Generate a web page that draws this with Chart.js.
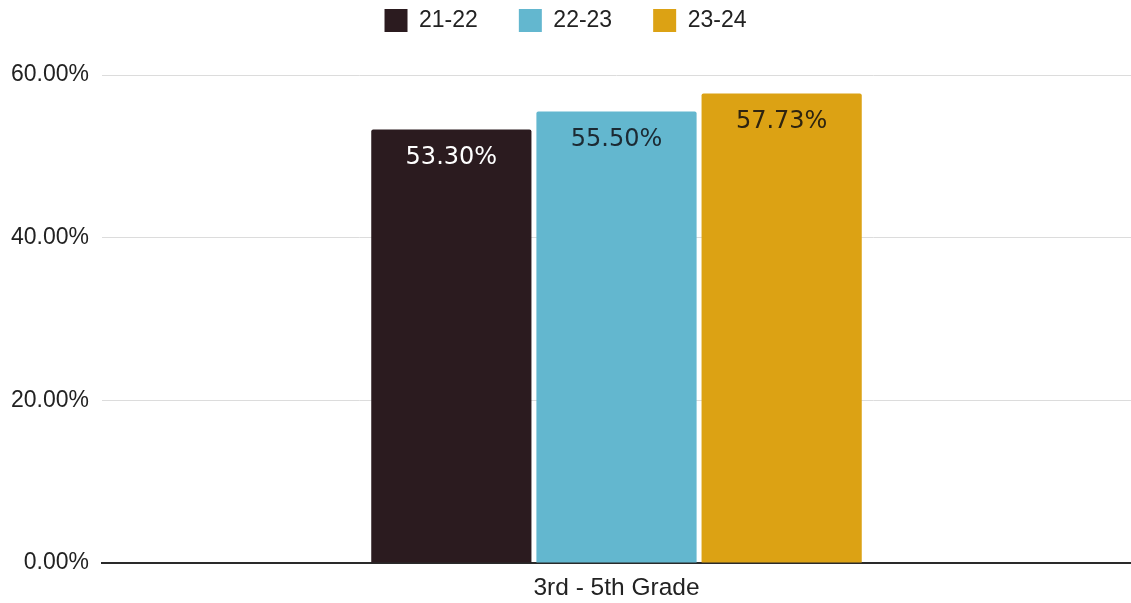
<!DOCTYPE html>
<html>
<head>
<meta charset="utf-8">
<script src="https://cdn.jsdelivr.net/npm/chart.js@4"></script>
<style>
html,body{margin:0;padding:0;background:#fff;}
#wrap{width:1131px;height:603px;position:relative;}
</style>
</head>
<body>
<div id="wrap"><canvas id="c"></canvas></div>
<script>
const categories = ["3rd - 5th Grade"];
const seriesNames = ["21-22", "22-23", "23-24"];
const values2122 = [53.30];
const values2223 = [55.50];
const values2324 = [57.73];
const yTicks = [0, 20, 40, 60];

const colors = ["#2b1b1f", "#63b7cf", "#dca214"];
const labelColors = ["#ffffff", "#1c2a33", "#2e2410"];

const LEG_PAD = 41;
const TOP_SHIFT = LEG_PAD - 9;

const labelPlugin = {
  id: 'barLabels',
  afterDatasetsDraw(chart) {
    const ctx = chart.ctx;
    ctx.save();
    ctx.font = '24px "DejaVu Sans"';
    ctx.textAlign = 'center';
    ctx.textBaseline = 'middle';
    chart.data.datasets.forEach((ds, i) => {
      const meta = chart.getDatasetMeta(i);
      meta.data.forEach((bar, j) => {
        ctx.fillStyle = labelColors[i];
        ctx.fillText(ds.data[j].toFixed(2) + '%', bar.x, bar.y + 28);
      });
    });
    ctx.restore();
  }
};

const legendHeightPlugin = {
  id: 'legendHeight',
  beforeUpdate(chart) {
    const lg = chart.legend;
    if (lg && !lg._patched) {
      const orig = lg.fit;
      lg.fit = function () {
        orig.call(this);
        this.height = 75 + TOP_SHIFT;
      };
      lg._patched = true;
    }
  }
};

new Chart(document.getElementById('c'), {
  type: 'bar',
  data: {
    labels: categories,
    datasets: [
      { label: seriesNames[0], data: values2122, backgroundColor: colors[0] },
      { label: seriesNames[1], data: values2223, backgroundColor: colors[1] },
      { label: seriesNames[2], data: values2324, backgroundColor: colors[2] }
    ]
  },
  options: {
    responsive: true,
    maintainAspectRatio: false,
    animation: false,
    layout: { padding: { left: 0, right: 0, top: -TOP_SHIFT, bottom: 0 } },
    datasets: {
      bar: { categoryPercentage: 0.4815, barPercentage: 0.97, borderRadius: 2, borderSkipped: 'bottom' }
    },
    plugins: {
      legend: {
        position: 'top',
        labels: {
          font: { family: '"Liberation Sans", Arial', size: 23 },
          color: '#222',
          boxWidth: 23,
          boxHeight: 23,
          padding: LEG_PAD
        }
      },
      tooltip: { enabled: false }
    },
    scales: {
      x: {
        afterFit(axis) { axis.height = 40; },
        grid: { display: false, drawTicks: false },
        border: { display: true, color: '#2a2a2a', width: 2 },
        ticks: { font: { family: '"Liberation Sans", Arial', size: 24.5 }, color: '#222', padding: 11 }
      },
      y: {
        min: 0,
        max: 60,
        afterBuildTicks(axis) { axis.ticks = yTicks.map(v => ({ value: v })); },
        afterFit(axis) { axis.width = 102; },
        grid: { color: (c) => c.tick && c.tick.value === 0 ? 'rgba(0,0,0,0)' : '#dcdcdc', lineWidth: 1, drawTicks: false },
        border: { display: false },
        ticks: {
          font: { family: '"Liberation Sans", Arial', size: 23 },
          color: '#222',
          padding: 13,
          callback: (v) => Number(v).toFixed(2) + '%'
        }
      }
    }
  },
  plugins: [legendHeightPlugin, labelPlugin]
});
</script>
</body>
</html>
